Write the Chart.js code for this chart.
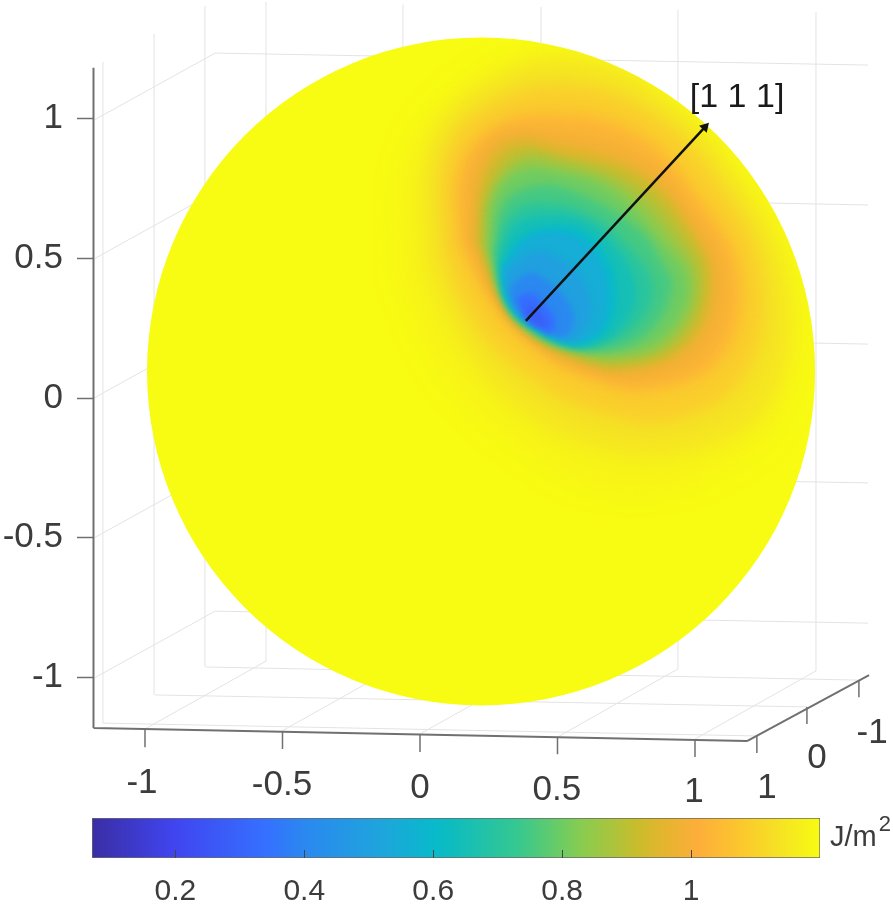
<!DOCTYPE html>
<html>
<head>
<meta charset="utf-8">
<style>
html,body{margin:0;padding:0;background:#fff;width:893px;height:905px;overflow:hidden}
canvas{position:absolute;left:0}
#main{top:0}
#bar{top:800px}
</style>
<script src="https://cdn.jsdelivr.net/npm/chart.js@4/dist/chart.umd.js"></script>
</head>
<body>
<canvas id="main" width="893" height="810"></canvas>
<canvas id="bar" width="893" height="105"></canvas>
<script>
// ---------- axis labels ----------
const zTicks = [-1, -0.5, 0, 0.5, 1];
const colorbarTicks = [0.2, 0.4, 0.6, 0.8, 1];
const xLabels = ['-1', '-0.5', '0', '0.5', '1'];
const xLabelX = [-1.011, -0.502, 0, 0.498, 0.996];
const xLabelY = [-1.378, -1.386, -1.396, -1.403, -1.411];
const depthLabels = ['1', '0', '-1'];
const depthLabelX = [1.262, 1.444, 1.644];
const depthLabelY = [-1.396, -1.289, -1.199];

// ---------- colormap ----------
const colormapValues = [0.0707, 0.2, 0.34, 0.4, 0.52, 0.6, 0.626, 0.73, 0.8, 0.83, 0.916, 0.957, 1.01, 1.065, 1.143, 1.2];
const colormapColors = ['#3a2ea5', '#4045f0', '#3570ff', '#2a88f0', '#1ea5dc', '#08bacb', '#0dbcc0', '#35c890', '#6ecc62', '#88cc50', '#c8bd2c', '#e4b52e', '#fdae3a', '#fcc230', '#f5e522', '#f8fb12'];

// ---------- sphere surface: iso-energy contours ----------
const sphereCentreX = 0.222, sphereCentreY = 0.095;
const contourLevels = [1.18, 1.14, 1.09, 1.03, 0.99, 0.95, 0.91, 0.88, 0.84, 0.8, 0.75, 0.7, 0.65, 0.6, 0.55, 0.5, 0.4, 0.33, 0.28];
const c118x = [-0.073,-0.055,0.182,0.509,0.836,1.109,1.364,1.345,1.091,0.691,0.327,0.073];
const c118y = [0.422,0.852,1.139,1.246,1.121,0.888,0.458,-0.007,-0.258,-0.329,-0.150,0.100];
const c114x = [0.018,0.044,0.291,0.618,0.891,1.145,1.327,1.273,0.982,0.618,0.309,0.127];
const c114y = [0.494,0.924,1.156,1.203,1.067,0.798,0.422,-0.007,-0.186,-0.168,0.011,0.243];
const c109x = [0.084,0.098,0.280,0.545,0.836,1.091,1.244,1.182,0.927,0.618,0.364,0.182];
const c109y = [0.530,0.888,1.067,1.121,1.024,0.763,0.440,0.082,-0.079,-0.043,0.100,0.297];
const c103x = [0.145,0.145,0.265,0.484,0.789,1.029,1.164,1.091,0.847,0.629,0.425,0.265];
const c103y = [0.555,0.816,0.970,1.020,0.949,0.698,0.433,0.136,0.029,0.064,0.172,0.340];
const c099x = [0.171,0.182,0.295,0.484,0.793,1.007,1.116,1.036,0.800,0.589,0.407,0.276];
const c099y = [0.562,0.816,0.949,0.960,0.881,0.659,0.426,0.161,0.061,0.104,0.204,0.344];
const c095x = [0.200,0.229,0.327,0.484,0.800,0.982,1.065,0.982,0.745,0.545,0.393,0.291];
const c095y = [0.566,0.816,0.924,0.913,0.816,0.619,0.422,0.190,0.100,0.143,0.236,0.351];
const c091x = [0.215,0.244,0.345,0.487,0.793,0.971,1.044,0.960,0.742,0.549,0.389,0.295];
const c091y = [0.566,0.781,0.895,0.873,0.788,0.598,0.419,0.200,0.115,0.154,0.243,0.362];
const c088x = [0.229,0.255,0.364,0.491,0.782,0.956,1.022,0.938,0.735,0.553,0.389,0.302];
const c088y = [0.566,0.745,0.870,0.863,0.755,0.573,0.412,0.208,0.129,0.161,0.251,0.365];
const c084x = [0.240,0.262,0.364,0.491,0.735,0.916,1.000,0.916,0.731,0.556,0.385,0.302];
const c084y = [0.548,0.727,0.841,0.834,0.752,0.573,0.408,0.215,0.143,0.172,0.254,0.372];
const c080x = [0.255,0.273,0.364,0.491,0.698,0.873,0.975,0.891,0.727,0.564,0.382,0.302];
const c080y = [0.530,0.716,0.809,0.809,0.738,0.566,0.405,0.226,0.161,0.183,0.261,0.380];
const c075x = [0.269,0.302,0.400,0.545,0.789,0.891,0.916,0.847,0.705,0.545,0.382,0.302];
const c075y = [0.530,0.691,0.755,0.745,0.609,0.465,0.397,0.251,0.175,0.183,0.265,0.376];
const c070x = [0.280,0.327,0.447,0.618,0.771,0.847,0.800,0.684,0.535,0.385,0.320,0.291];
const c070y = [0.530,0.655,0.698,0.655,0.530,0.397,0.272,0.197,0.186,0.265,0.329,0.412];
const c065x = [0.287,0.342,0.455,0.604,0.727,0.785,0.742,0.655,0.535,0.389,0.324,0.298];
const c065y = [0.501,0.616,0.655,0.630,0.519,0.383,0.261,0.197,0.190,0.269,0.333,0.408];
const c060x = [0.298,0.364,0.462,0.582,0.680,0.716,0.684,0.618,0.535,0.389,0.327,0.305];
const c060y = [0.476,0.573,0.612,0.602,0.505,0.369,0.251,0.200,0.197,0.272,0.340,0.408];
const c055x = [0.302,0.371,0.465,0.575,0.655,0.684,0.655,0.582,0.535,0.389,0.327,0.305];
const c055y = [0.465,0.555,0.594,0.573,0.487,0.358,0.243,0.200,0.200,0.272,0.340,0.408];
const c050x = [0.309,0.418,0.527,0.600,0.618,0.564,0.462,0.393,0.331];
const c050y = [0.451,0.523,0.487,0.405,0.297,0.208,0.236,0.276,0.344];
const c040x = [0.324,0.400,0.480,0.545,0.556,0.516,0.462,0.393,0.342];
const c040y = [0.397,0.448,0.405,0.333,0.261,0.215,0.240,0.279,0.340];
const c033x = [0.345,0.400,0.455,0.491,0.473,0.436,0.393];
const c033y = [0.351,0.376,0.333,0.272,0.229,0.251,0.279];
const c028x = [0.378,0.407,0.447,0.458,0.429,0.393];
const c028y = [0.315,0.329,0.294,0.254,0.258,0.279];
const contoursX = [c118x,c114x,c109x,c103x,c099x,c095x,c091x,c088x,c084x,c080x,c075x,c070x,c065x,c060x,c055x,c050x,c040x,c033x,c028x];
const contoursY = [c118y,c114y,c109y,c103y,c099y,c095y,c091y,c088y,c084y,c080y,c075y,c070y,c065y,c060y,c055y,c050y,c040y,c033y,c028y];

// ---------- [1 1 1] arrow ----------
const arrowX = [0.385, 1.036];
const arrowY = [0.276, 0.970];
const arrowLabel = '[1 1 1]';
const arrowLabelX = 1.153, arrowLabelY = 1.074;

// ---------- 3D box: each entry is x1, y1, x2, y2 in axis units ----------
const gridSegments = [
  [-1.153,-1.164,-1.153,1.203],[-0.967,-1.063,-0.967,1.303],[-0.782,-0.963,-0.782,1.404],
  [-1.153,-1.164,1.225,-1.210],[-0.964,-1.063,1.407,-1.106],[-0.778,-0.963,1.596,-1.010],
  [-1,-1.185,-0.56,-0.942],[-0.502,-1.192,-0.062,-0.949],[0,-1.203,0.44,-0.960],[0.5,-1.214,0.938,-0.970],[1,-1.221,1.44,-0.977],
  [-1.1855,0.995,-0.745,1.235],[-1.1855,0.498,-0.745,0.738],[-1.1855,0,-0.745,0.240],[-1.1855,-0.501,-0.745,-0.261],[-1.1855,-1.003,-0.745,-0.763],
  [-0.745,1.235,1.629,1.192],[-0.745,0.738,1.629,0.691],[-0.745,0.240,1.629,0.193],[-0.745,-0.261,1.629,-0.304],[-0.745,-0.763,1.629,-0.806],
  [-0.56,-0.942,-0.56,1.418],[-0.062,-0.949,-0.062,1.409],[0.44,-0.960,0.44,1.400],[0.938,-0.970,0.938,1.391],[1.44,-0.977,1.44,1.382]
];
const axisSegments = [
  [-1.1873,1.182,-1.1873,-1.1815],[-1.1873,-1.1815,1.189,-1.228],[1.189,-1.228,1.633,-0.992]
];
const tickSegments = [
  [-1,-1.185,-1,-1.250],[-0.5,-1.192,-0.5,-1.257],[0,-1.203,0,-1.267],[0.5,-1.214,0.5,-1.275],[1,-1.221,1,-1.285],
  [1.225,-1.210,1.225,-1.271],[1.407,-1.106,1.407,-1.167],[1.596,-1.010,1.596,-1.071]
];

// ---------- style ----------
const FONT = '"Liberation Sans", Arial, sans-serif';
const TEXT = '#3c3c3c';
const SPHERE_RADIUS = 334;
const contourBlur = [11, 9, 8, 7, 6, 5, 5, 4, 4, 4, 4, 4, 3.5, 3, 3, 3, 3, 3, 3];

function hexRgb(h){return [1,3,5].map(i=>parseInt(h.substr(i,2),16));}
function colorAt(v){
  for(let i=1;i<colormapValues.length;i++){
    if(v<=colormapValues[i]){
      const t=(v-colormapValues[i-1])/(colormapValues[i]-colormapValues[i-1]);
      const a=hexRgb(colormapColors[i-1]),b=hexRgb(colormapColors[i]);
      return 'rgb('+a.map((c,k)=>Math.round(c+(b[k]-c)*t)).join(',')+')';
    }
  }
  return colormapColors[colormapColors.length-1];
}
function segmentsToPoints(segs){
  const pts=[];
  segs.forEach(s=>{pts.push({x:s[0],y:s[1]},{x:s[2],y:s[3]},{x:null,y:null});});
  return pts;
}
function closedPoints(xs,ys){
  const pts=xs.map((x,i)=>({x:x,y:ys[i]}));
  pts.push({x:xs[0],y:ys[0]});
  return pts;
}

// blur + sphere clip for the contour fills; must run before the filler plugin
const surfaceBlur = {
  id:'surfaceBlur',
  beforeDatasetDraw(chart,args){
    const ds=chart.data.datasets[args.index];
    if(ds.blur===undefined) return;
    const ctx=chart.ctx,sx=chart.scales.x,sy=chart.scales.y;
    ctx.save();
    ctx.beginPath();
    ctx.arc(sx.getPixelForValue(sphereCentreX),sy.getPixelForValue(sphereCentreY),SPHERE_RADIUS,0,Math.PI*2);
    ctx.clip();
    ctx.filter='blur('+ds.blur+'px)';
  },
  afterDatasetDraw(chart,args){
    const ds=chart.data.datasets[args.index];
    if(ds.blur===undefined) return;
    chart.ctx.restore();
  }
};
const filler = Chart.registry.plugins.get('filler');
Chart.unregister(filler);
Chart.register(surfaceBlur, filler);

const textLabels = {
  id:'textLabels',
  afterDatasetsDraw(chart){
    const ctx=chart.ctx,sx=chart.scales.x,sy=chart.scales.y;
    ctx.save();
    ctx.textAlign='center';ctx.textBaseline='middle';
    ctx.fillStyle=TEXT;ctx.font='35px '+FONT;
    xLabels.forEach((t,i)=>ctx.fillText(t,sx.getPixelForValue(xLabelX[i]),sy.getPixelForValue(xLabelY[i])));
    depthLabels.forEach((t,i)=>ctx.fillText(t,sx.getPixelForValue(depthLabelX[i]),sy.getPixelForValue(depthLabelY[i])));
    ctx.fillStyle='#1a1a1a';ctx.font='34px '+FONT;
    ctx.fillText(arrowLabel,sx.getPixelForValue(arrowLabelX),sy.getPixelForValue(arrowLabelY));
    ctx.restore();
  }
};

// datasets are listed top-most first
const mainDatasets = [];
mainDatasets.push({
  data:closedPoints(arrowX,arrowY).slice(0,2),showLine:true,borderColor:'#111',borderWidth:2.5,
  pointRadius:[0,6],pointStyle:'triangle',pointRotation:42.6,pointBackgroundColor:'#111',pointBorderWidth:0
});
for(let i=contourLevels.length-1;i>=0;i--){
  mainDatasets.push({
    data:closedPoints(contoursX[i],contoursY[i]),showLine:true,tension:0.4,borderWidth:0,pointRadius:0,
    fill:'shape',backgroundColor:colorAt(contourLevels[i]),borderColor:'transparent',blur:contourBlur[i]
  });
}
mainDatasets.push({data:[{x:sphereCentreX,y:sphereCentreY}],pointRadius:SPHERE_RADIUS,pointBackgroundColor:'#f8fb12',pointBorderWidth:0,clip:false});
mainDatasets.push({data:segmentsToPoints(tickSegments),showLine:true,borderColor:'#707070',borderWidth:1.5,pointRadius:0,clip:false});
mainDatasets.push({data:segmentsToPoints(axisSegments),showLine:true,borderColor:'#707070',borderWidth:2,pointRadius:0,clip:false});
mainDatasets.push({data:segmentsToPoints(gridSegments),showLine:true,borderColor:'#e3e3e3',borderWidth:1,pointRadius:0});

new Chart(document.getElementById('main'),{
  type:'scatter',
  data:{datasets:mainDatasets},
  plugins:[textLabels],
  options:{
    responsive:false,animation:false,events:[],
    layout:{padding:0,autoPadding:false},
    plugins:{legend:{display:false},tooltip:{enabled:false}},
    scales:{
      x:{type:'linear',display:false,min:-1.18545,max:1.72},
      y:{type:'linear',min:-1.475,max:1.425,
        afterBuildTicks(s){s.ticks=zTicks.map(v=>({value:v}));},
        afterFit(s){s.width=94;s.paddingTop=0;s.paddingBottom=0;},
        border:{display:false},
        grid:{drawOnChartArea:false,tickLength:17,tickColor:'#707070',tickWidth:1.5},
        ticks:{autoSkip:false,padding:14,color:TEXT,font:{size:35,family:FONT},callback:v=>String(v)}
      }
    }
  }
});

// ---------- colour bar ----------
const colorbarMin = 0.0707, colorbarMax = 1.2;
const unitLabelValue = 1.2155;
const colorbarTitle = {
  id:'colorbarTitle',
  afterDraw(chart){
    const ctx=chart.ctx,sx=chart.scales.x;
    const x=sx.getPixelForValue(unitLabelValue),y=(chart.chartArea.top+chart.chartArea.bottom)/2;
    ctx.save();
    ctx.fillStyle=TEXT;ctx.textBaseline='middle';ctx.textAlign='left';
    ctx.font='29px '+FONT;ctx.fillText('J/m',x,y);
    const w=ctx.measureText('J/m').width;
    ctx.font='22px '+FONT;ctx.fillText('2',x+w+2,y-13);
    ctx.restore();
  }
};
new Chart(document.getElementById('bar'),{
  type:'bar',
  data:{labels:['J/m2'],datasets:[{
    data:[[colorbarMin,colorbarMax]],
    barPercentage:1,categoryPercentage:1,borderWidth:1,borderColor:'#6a6a6a',borderSkipped:false,
    backgroundColor(c){
      const s=c.chart.scales.x;
      if(!c.chart.chartArea||!s) return '#888';
      const p0=s.getPixelForValue(colorbarMin),p1=s.getPixelForValue(colorbarMax);
      const g=c.chart.ctx.createLinearGradient(p0,0,p1,0);
      colormapValues.forEach((v,i)=>g.addColorStop((v-colorbarMin)/(colorbarMax-colorbarMin),colormapColors[i]));
      return g;
    }
  }]},
  plugins:[colorbarTitle],
  options:{
    indexAxis:'y',responsive:false,animation:false,events:[],
    layout:{padding:{left:92,right:73,top:18,bottom:0}},
    plugins:{legend:{display:false},tooltip:{enabled:false}},
    scales:{
      y:{type:'category',display:false},
      x:{type:'linear',min:colorbarMin,max:colorbarMax,
        afterBuildTicks(s){s.ticks=colorbarTicks.map(v=>({value:v}));},
        afterFit(s){s.height=47;},
        border:{display:false},
        grid:{drawOnChartArea:false,tickLength:-8,tickColor:'#444',tickWidth:1,z:1},
        ticks:{autoSkip:false,maxRotation:0,padding:24,color:TEXT,font:{size:30,family:FONT},callback:v=>String(v)}
      }
    }
  }
});
</script>
</body>
</html>
